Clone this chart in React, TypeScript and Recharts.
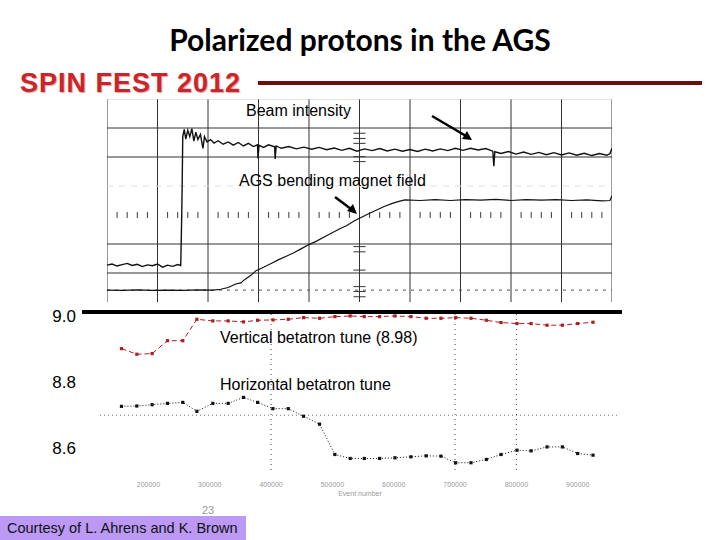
import { LineChart, Line, XAxis, YAxis, ReferenceLine } from "recharts"

// scope trace: time in screen divisions (0-100), level in vertical divisions (0-7)
const beamTime = [0, 1, 2, 3, 4, 5, 6, 7, 8, 9, 10, 11, 12, 13, 14, 14.6, 14.8, 14.9, 15, 15.3, 15.6, 16, 16.4, 16.8, 17.2, 17.6, 18, 18.5, 19, 19.3, 19.8, 20.5, 21.2, 22, 23, 24, 25, 26, 27, 28, 29, 29.8, 29.9, 30.1, 31, 32, 33.2, 33.3, 33.5, 34.5, 36, 37.5, 39, 40.5, 42, 43.5, 45, 46.5, 48, 49.5, 51, 52.5, 54, 55.5, 57, 58.5, 60, 61.5, 63, 64.5, 66, 67.5, 69, 70.5, 72, 73.5, 75, 76.4, 76.6, 76.8, 78, 79.5, 81, 82.5, 84, 85.5, 87, 88.5, 90, 91.5, 93, 94.5, 96, 97.5, 99, 99.6, 100]
const beamLevel = [1.27, 1.31, 1.24, 1.29, 1.33, 1.26, 1.3, 1.22, 1.28, 1.25, 1.31, 1.2, 1.27, 1.23, 1.29, 1.26, 3.0, 4.2, 5.7, 5.95, 5.62, 5.92, 5.7, 5.98, 5.55, 5.86, 5.6, 5.78, 5.3, 5.7, 5.52, 5.6, 5.48, 5.56, 5.44, 5.52, 5.41, 5.5, 5.38, 5.47, 5.36, 5.42, 4.95, 5.4, 5.33, 5.42, 5.35, 4.93, 5.38, 5.3, 5.36, 5.28, 5.34, 5.27, 5.33, 5.25, 5.31, 5.23, 5.3, 5.2, 5.28, 5.22, 5.29, 5.21, 5.27, 5.2, 5.26, 5.19, 5.27, 5.21, 5.28, 5.22, 5.3, 5.23, 5.3, 5.24, 5.29, 5.2, 4.68, 5.18, 5.12, 5.19, 5.1, 5.17, 5.09, 5.16, 5.08, 5.15, 5.07, 5.14, 5.06, 5.13, 5.05, 5.12, 5.06, 5.12, 5.3]

const fieldTime = [0, 3, 6, 9, 12, 15, 18, 21, 22.5, 24, 25.5, 26.5, 27.3, 28.5, 29.5, 31, 32.5, 34, 35.5, 37, 38.5, 40, 41.5, 43, 44.5, 46, 47.5, 49, 50.5, 52, 53.5, 55, 56.5, 58, 59, 62, 65, 68, 71, 74, 77, 80, 83, 86, 89, 92, 95, 98, 99.6, 100]
const fieldLevel = [0.41, 0.4, 0.42, 0.4, 0.41, 0.4, 0.42, 0.41, 0.44, 0.5, 0.62, 0.66, 0.78, 0.92, 1.08, 1.2, 1.33, 1.46, 1.58, 1.7, 1.84, 1.98, 2.1, 2.24, 2.38, 2.52, 2.64, 2.8, 2.93, 3.06, 3.18, 3.3, 3.4, 3.48, 3.52, 3.5, 3.53, 3.5, 3.53, 3.51, 3.54, 3.5, 3.53, 3.51, 3.53, 3.5, 3.52, 3.49, 3.5, 3.66]

// tune measurements
const tuneTime = [156000, 181000, 206000, 231000, 256000, 279000, 305000, 330000, 355000, 378000, 403000, 428000, 453000, 479000, 504000, 529000, 552000, 577000, 602000, 628000, 653000, 677000, 701000, 726000, 751000, 775000, 801000, 824000, 850000, 875000, 900000, 925000]
const verticalTune = [8.908, 8.891, 8.893, 8.932, 8.932, 8.997, 8.992, 8.992, 8.989, 8.994, 8.995, 8.997, 9.002, 9.0, 9.005, 9.007, 9.005, 9.005, 9.007, 9.005, 9.0, 9.0, 9.002, 9.0, 8.994, 8.987, 8.984, 8.984, 8.979, 8.979, 8.984, 8.988]
const horizontalTune = [8.733, 8.734, 8.738, 8.742, 8.745, 8.718, 8.742, 8.742, 8.76, 8.745, 8.726, 8.726, 8.703, 8.679, 8.587, 8.575, 8.575, 8.575, 8.577, 8.58, 8.583, 8.582, 8.562, 8.562, 8.572, 8.587, 8.6, 8.598, 8.61, 8.61, 8.59, 8.585]

const tuneTicks = [8.6, 8.8, 9.0]
const timeTicks = [150000, 200000, 250000, 300000, 350000, 400000, 450000, 500000, 550000, 600000, 650000, 700000, 750000, 800000, 850000, 900000]

const beamData = beamTime.map((x, i) => ({ x, v: beamLevel[i] }))
const fieldData = fieldTime.map((x, i) => ({ x, v: fieldLevel[i] }))
const tuneData = tuneTime.map((t, i) => ({
  t,
  vertical: verticalTune[i],
  horizontal: horizontalTune[i],
}))

const divisions = [0, 10, 20, 30, 40, 50, 60, 70, 80, 90, 100]
const rowTicks: number[] = []
for (let d = 0; d < 100; d += 10) {
  rowTicks.push(d + 2, d + 4, d + 6, d + 8)
}
const centerTicks = [5.82, 5.64, 5.47, 5.01, 4.84, 1.91, 1.73, 1.1, 0.53, 0.36, 0.18]

const squareDot = (color: string) => (props: any) => {
  const { cx, cy, index } = props
  if (cx == null || cy == null) return <g key={index} />
  return <rect key={index} x={cx - 1.6} y={cy - 1.6} width={3.2} height={3.2} fill={color} />
}

const TimeTick = (props: any) => {
  const { x, y, payload } = props
  if (payload.value % 100000 === 0) {
    return (
      <text x={x} y={y + 9} textAnchor="middle" fontSize={7} fill="#9a9a9a">
        {payload.value}
      </text>
    )
  }
  return <line x1={x} x2={x} y1={y - 4} y2={y} stroke="#555" strokeWidth={1} />
}

const TuneTick = (props: any) => {
  const { x, y, payload } = props
  return (
    <text x={x} y={y} dy={4} textAnchor="end" fontSize={17} fill="#000">
      {payload.value.toFixed(1)}
    </text>
  )
}

export default function App() {
  return (
    <div
      style={{
        position: "absolute",
        left: 0,
        top: 0,
        width: 720,
        height: 540,
        background: "#fff",
        overflow: "hidden",
        fontFamily: "'Liberation Sans', Arial, sans-serif",
      }}
    >
      <div
        style={{
          position: "absolute",
          left: 0,
          width: 720,
          top: 21,
          textAlign: "center",
          fontFamily: "Lato, sans-serif",
          fontWeight: 700,
          fontSize: 30,
          color: "#000",
        }}
      >
        Polarized protons in the AGS
      </div>
      <div
        style={{
          position: "absolute",
          left: 20,
          top: 68,
          fontWeight: 700,
          fontSize: 27,
          letterSpacing: 1,
          color: "#c9252b",
          textShadow: "1px 1px 1px #e9a0a0",
        }}
      >
        SPIN FEST 2012
      </div>
      <div style={{ position: "absolute", left: 258, top: 81, width: 444, height: 4, background: "#6e0d0d" }} />

      {/* oscilloscope */}
      <div style={{ position: "absolute", left: 107, top: 99 }}>
        <LineChart width={505} height={203} margin={{ top: 0, right: 0, bottom: 0, left: 0 }}>
          <XAxis type="number" dataKey="x" domain={[0, 100]} hide />
          <YAxis type="number" domain={[0, 7]} hide />
          {divisions.map((d) => (
            <ReferenceLine key={"v" + d} x={d} stroke="#333" strokeWidth={1} />
          ))}
          {[1, 2, 5, 6].map((r) => (
            <ReferenceLine key={"h" + r} y={r} stroke="#333" strokeWidth={1} />
          ))}
          <ReferenceLine y={7} stroke="#ccc" strokeWidth={1} />
          <ReferenceLine y={4} stroke="#ddd" strokeWidth={1} strokeDasharray="6 6" />
          <ReferenceLine y={0.41} stroke="#555" strokeWidth={1} strokeDasharray="3 5" />
          {rowTicks.map((t) => (
            <ReferenceLine
              key={"rt" + t}
              segment={[{ x: t, y: 2.9 }, { x: t, y: 3.1 }]}
              stroke="#333"
              strokeWidth={1}
            />
          ))}
          {centerTicks.map((t) => (
            <ReferenceLine
              key={"ct" + t}
              segment={[{ x: 48.8, y: t }, { x: 51.2, y: t }]}
              stroke="#333"
              strokeWidth={1}
            />
          ))}
          <Line
            data={fieldData}
            dataKey="v"
            stroke="#111"
            strokeWidth={1.2}
            dot={false}
            isAnimationActive={false}
          />
          <Line
            data={beamData}
            dataKey="v"
            stroke="#111"
            strokeWidth={1.4}
            dot={false}
            isAnimationActive={false}
          />
        </LineChart>
      </div>

      {/* tune plot */}
      <div style={{ position: "absolute", left: 30, top: 300 }}>
        <LineChart width={590} height={200} data={tuneData} margin={{ top: 13, right: 0, bottom: 0, left: 0 }}>
          <XAxis
            type="number"
            dataKey="t"
            domain={[121000, 969000]}
            ticks={timeTicks}
            axisLine={false}
            tickLine={false}
            tick={<TimeTick />}
            height={30}
            label={{ value: "Event number", position: "insideBottom", offset: 4, fontSize: 7, fill: "#9a9a9a" }}
          />
          <YAxis
            type="number"
            domain={[8.54, 9.016]}
            ticks={tuneTicks}
            width={70}
            axisLine={false}
            tickLine={false}
            tickMargin={18}
            tick={<TuneTick />}
          />
          <ReferenceLine y={8.706} stroke="#777" strokeDasharray="1 3" />
          {[400000, 700000, 800000].map((t) => (
            <ReferenceLine key={t} x={t} stroke="#444" strokeDasharray="1 4" />
          ))}
          <Line
            dataKey="vertical"
            stroke="#b01c20"
            strokeWidth={1}
            strokeDasharray="5 3"
            dot={squareDot("#b01c20")}
            isAnimationActive={false}
          />
          <Line
            dataKey="horizontal"
            stroke="#111"
            strokeWidth={1}
            strokeDasharray="1 2"
            dot={squareDot("#111")}
            isAnimationActive={false}
          />
        </LineChart>
      </div>

      <div style={{ position: "absolute", left: 82, top: 310, width: 540, height: 4, background: "#000" }} />

      {/* annotations */}
      <svg width={720} height={540} style={{ position: "absolute", left: 0, top: 0, pointerEvents: "none" }}>
        <g fontFamily="'Liberation Sans', Arial, sans-serif" fontSize={16} fill="#000">
          <text x={246} y={116}>Beam intensity</text>
          <text x={239} y={186}>AGS bending magnet field</text>
          <text x={220} y={343}>Vertical betatron tune (8.98)</text>
          <text x={220} y={390}>Horizontal betatron tune</text>
        </g>
        <line x1={432} y1={116} x2={466} y2={136} stroke="#000" strokeWidth={2.5} />
        <polygon points="472,140 462,139 467,131" fill="#000" />
        <line x1={335} y1={197} x2={351} y2={209} stroke="#000" strokeWidth={2.5} />
        <polygon points="357,214 347,211 353,204" fill="#000" />
        <text x={208} y={514} fontSize={11} fill="#999" textAnchor="middle">23</text>
      </svg>

      <div
        style={{
          position: "absolute",
          left: 0,
          top: 516,
          width: 246,
          height: 24,
          background: "#bb99f5",
          fontSize: 14.5,
          lineHeight: "24px",
          paddingLeft: 7,
          boxSizing: "border-box",
          color: "#111",
          whiteSpace: "nowrap",
        }}
      >
        Courtesy of L. Ahrens and K. Brown
      </div>
    </div>
  )
}
